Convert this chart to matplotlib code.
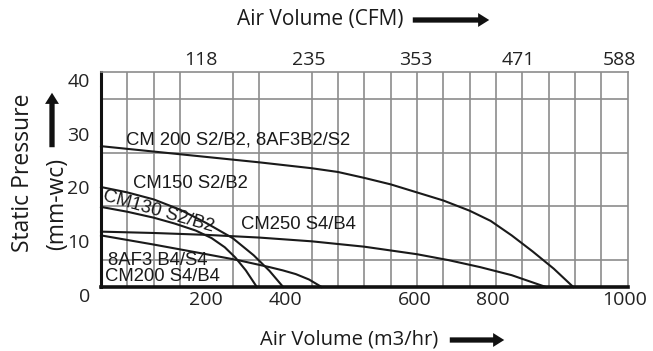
import numpy as np
import matplotlib.pyplot as plt
from matplotlib.patches import FancyArrowPatch
from matplotlib.transforms import ScaledTranslation

# courbes pression statique (mm-wc) en fonction du débit (m3/hr)
cm200_s2_x = [0, 100, 200, 300, 400, 450, 500, 550, 600, 650, 700, 740, 780, 820, 860, 897]
cm200_s2_y = [26.2, 25.2, 24.2, 23.2, 22.1, 21.4, 20.3, 19.1, 17.6, 16.1, 14.2, 12.3, 9.6, 6.6, 3.4, 0]

cm150_x = [0, 50, 100, 150, 200, 250, 290, 320, 346]
cm150_y = [18.6, 17.6, 16.3, 14.4, 11.9, 9.1, 5.9, 3.0, 0]

cm130_x = [0, 50, 100, 140, 180, 210, 235, 255, 275, 296]
cm130_y = [14.9, 14.0, 12.9, 11.8, 10.5, 9.1, 7.4, 5.5, 3.1, 0]

cm250_x = [0, 100, 200, 300, 400, 500, 600, 660, 720, 780, 845]
cm250_y = [10.3, 10.05, 9.7, 9.2, 8.5, 7.5, 6.1, 5.0, 3.7, 2.2, 0]

cm200_s4_x = [0, 100, 200, 260, 320, 345, 370, 395, 419]
cm200_s4_y = [9.6, 7.9, 6.1, 5.0, 3.7, 3.1, 2.4, 1.4, 0]

# graduations
bas_pos = [200, 350, 595, 745, 995]
bas_lab = ['200', '400', '600', '800', '1000']
haut_pos = [190, 395, 598, 793, 984]
haut_lab = ['118', '235', '353', '471', '588']
y_lab = [0, 10, 20, 30, 40]

W, H = 653, 351


def fx(px):
    return px / W


def fy(py):
    return 1 - py / H


fig = plt.figure(figsize=(W / 100, H / 100), dpi=100)
ax = fig.add_axes([fx(101), fy(287), (627.5 - 101) / W, (287 - 72) / H])

ax.set_xlim(0, 1000)
ax.set_ylim(0, 40)

# quadrillage
ax.set_xticks(np.arange(50, 1000, 50), minor=True)
ax.set_yticks(np.arange(5, 40, 5), minor=True)
ax.grid(which='minor', color='#8c8c8c', lw=1.2)
ax.tick_params(which='both', length=0)

ax.set_xticks(bas_pos)
ax.set_xticklabels(bas_lab, fontfamily='Open Sans', fontsize=14, color='#222222')
ax.tick_params(axis='x', pad=3)
ax.set_yticks(y_lab)
ax.set_yticklabels([str(v) for v in y_lab], fontfamily='Open Sans', fontsize=14, color='#222222')
ax.tick_params(axis='y', pad=8)
decal = ScaledTranslation(0, -8 / 100, fig.dpi_scale_trans)
for lab in ax.get_yticklabels():
    lab.set_transform(lab.get_transform() + decal)

haut = ax.secondary_xaxis('top')
haut.set_xticks(haut_pos)
haut.set_xticklabels(haut_lab, fontfamily='Open Sans', fontsize=14, color='#222222')
haut.tick_params(length=0, pad=2)
haut.spines['top'].set_visible(False)

for s in ['top', 'right']:
    ax.spines[s].set_color('#8c8c8c')
    ax.spines[s].set_linewidth(1.2)
ax.spines['left'].set_linewidth(2.2)
ax.spines['bottom'].set_linewidth(2.6)
ax.spines['left'].set_color('#111111')
ax.spines['bottom'].set_color('#111111')

# courbes
for xs, ys in [(cm200_s2_x, cm200_s2_y), (cm150_x, cm150_y), (cm130_x, cm130_y),
               (cm250_x, cm250_y), (cm200_s4_x, cm200_s4_y)]:
    ax.plot(xs, ys, color='#1a1a1a', lw=1.5, solid_joinstyle='round', clip_on=False)

# étiquettes des courbes
police = dict(fontfamily='Liberation Sans', fontsize=13.3, color='#1a1a1a')
ax.text(48, 27.3, 'CM 200 S2/B2, 8AF3B2/S2', va='center', **police)
ax.text(60, 19.3, 'CM150 S2/B2', va='center', **police)
ax.text(5, 16.9, 'CM130 S2/B2', va='center', ha='left', rotation=-16,
        rotation_mode='anchor', **police)
ax.text(265, 11.6, 'CM250 S4/B4', va='center', **police)
ax.text(13, 5.0, '8AF3 B4/S4', va='center', **police)
ax.text(8, 2.0, 'CM200 S4/B4', va='center', **police)

# titres des axes
ax_font = dict(fontfamily='Open Sans', color='#1a1a1a')
fig.text(fx(320), fy(19), 'Air Volume (CFM)', ha='center', va='center', fontsize=15, **ax_font)
fig.text(fx(349), fy(340), 'Air Volume (m3/hr)', ha='center', va='center', fontsize=14.5, **ax_font)
fig.text(fx(23), fy(173), 'Static Pressure', ha='center', va='center', rotation=90,
         fontsize=16.5, **ax_font)
fig.text(fx(57), fy(204), '(mm-wc)', ha='center', va='center', rotation=90,
         fontsize=16.5, **ax_font)

# flèches
style = 'simple,head_width=1.0,head_length=0.8,tail_width=0.38'
for a, b in [((410, 20), (492, 20)), ((447, 340), (507, 340)), ((52, 150), (52, 90))]:
    fl = FancyArrowPatch((fx(a[0]), fy(a[1])), (fx(b[0]), fy(b[1])), transform=fig.transFigure,
                         arrowstyle=style, mutation_scale=10, color='#111111', lw=0)
    fig.add_artist(fl)

fig.savefig('out.png', dpi=100)
